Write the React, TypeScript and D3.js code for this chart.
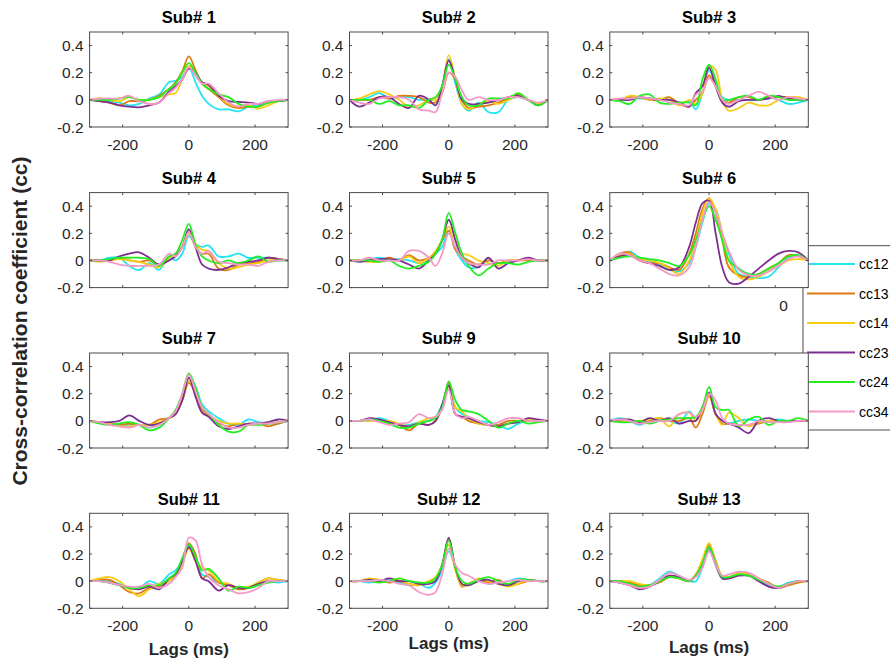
import React from 'react';
import * as d3 from 'd3';

// Lag grid (ms) shared by every cross-correlation trace
const LAGS = [-300, -270, -240, -210, -180, -150, -120, -90, -60, -40, -20, 0, 20, 40, 60, 90, 120, 150, 180, 210, 240, 270, 300];

const PAIR_LABELS = ['cc12', 'cc13', 'cc14', 'cc23', 'cc24', 'cc34'];
const PAIR_COLORS = ['#22e5f2', '#dd7a12', '#f7cc14', '#7b2f8f', '#22ee22', '#f59ac8'];

const X_TICKS = [-200, 0, 200];
const Y_TICKS = [-0.2, 0, 0.2, 0.4];

const SUBJECT_TITLES = ['Sub# 1', 'Sub# 2', 'Sub# 3', 'Sub# 4', 'Sub# 5', 'Sub# 6', 'Sub# 7', 'Sub# 9', 'Sub# 10', 'Sub# 11', 'Sub# 12', 'Sub# 13'];

// Each subject: rows in PAIR_LABELS order, columns in LAGS order
const sub1 = [
  [0, 0, -0.01, -0.02, -0.04, -0.03, 0.01, 0.04, 0.13, 0.14, 0.17, 0.24, 0.13, 0.03, -0.03, -0.07, -0.07, -0.085, -0.05, -0.04, -0.02, -0.01, 0],
  [0, -0.01, -0.02, -0.04, -0.01, -0.01, 0, 0.03, 0.08, 0.13, 0.21, 0.32, 0.22, 0.12, 0.08, 0.02, -0.04, -0.06, -0.05, -0.05, -0.02, -0.01, 0],
  [0, 0.01, 0, -0.01, 0.02, 0, 0, 0.02, 0.04, 0.05, 0.15, 0.25, 0.2, 0.12, 0.1, 0.03, -0.03, -0.05, -0.04, -0.065, -0.04, -0.01, 0],
  [0, -0.01, -0.02, -0.04, -0.05, -0.055, -0.04, -0.02, 0.06, 0.1, 0.15, 0.23, 0.2, 0.13, 0.11, 0.03, -0.01, -0.015, -0.02, -0.03, -0.01, -0.01, 0],
  [0, 0, 0, 0.01, 0.02, 0, 0, 0.02, 0.08, 0.12, 0.2, 0.27, 0.2, 0.12, 0.08, 0.04, 0.02, -0.03, -0.05, -0.05, -0.02, -0.01, 0],
  [0, 0.01, 0.01, 0.01, 0.03, -0.01, -0.03, -0.02, 0.05, 0.09, 0.15, 0.24, 0.18, 0.12, 0.12, 0.05, -0.02, -0.05, -0.03, -0.03, -0.01, 0, 0],
];
const sub2 = [
  [0, 0, 0.02, 0.05, 0.01, 0.02, 0.02, 0, 0, -0.04, 0.1, 0.3, 0.12, -0.03, -0.08, -0.02, -0.09, -0.09, 0, 0.02, 0, -0.03, 0],
  [0, 0, 0, 0.02, 0.01, 0.03, 0.03, 0.02, -0.02, -0.02, 0.05, 0.2, 0.15, 0, -0.06, -0.05, -0.04, -0.02, 0.01, 0.04, 0, -0.03, 0],
  [0, 0.01, 0.04, 0.065, 0.04, 0, -0.05, -0.04, 0, 0, 0.1, 0.33, 0.15, -0.03, -0.07, -0.03, -0.01, -0.03, 0, 0.03, 0, -0.03, 0],
  [0, -0.05, -0.02, 0.02, 0.02, -0.03, -0.06, 0.03, 0, -0.04, 0.1, 0.29, 0.15, 0, -0.03, -0.03, -0.02, 0, 0.02, 0.03, 0, -0.04, 0],
  [0, 0, 0, -0.03, -0.01, -0.04, -0.04, -0.06, 0, 0.02, 0.1, 0.26, 0.15, 0.02, -0.04, -0.04, 0.01, 0.01, 0.01, 0.05, 0, -0.04, 0],
  [0, -0.02, -0.03, 0.01, 0.02, 0.02, 0, -0.07, -0.08, -0.09, 0.05, 0.2, 0.17, 0.07, 0, 0.02, 0, 0, 0.02, 0.02, 0, -0.02, 0],
];
const sub3 = [
  [0, 0, 0.02, 0.01, 0.01, 0, 0, -0.03, -0.01, -0.07, 0.05, 0.22, 0.12, 0.02, 0, 0, 0, 0, 0.02, 0, -0.03, -0.02, 0],
  [0, 0, 0.02, 0.02, 0, 0, 0.02, -0.03, -0.05, 0, 0.05, 0.18, 0.1, 0, -0.02, 0.02, 0.02, 0, 0.02, 0.02, 0.02, 0, 0],
  [0, 0, 0.03, 0.02, 0, 0.01, 0, -0.04, 0, -0.03, 0.05, 0.25, 0.22, 0, -0.08, -0.06, -0.02, -0.04, -0.04, 0, 0.02, 0.02, 0],
  [0, 0, 0, 0.02, 0.01, 0, 0, -0.02, -0.05, 0.05, 0.1, 0.24, 0.1, -0.02, -0.05, -0.01, 0, 0, 0.01, 0.03, 0.01, 0, 0],
  [0, -0.01, -0.03, 0.03, 0.04, -0.02, -0.03, -0.02, -0.02, -0.04, 0.15, 0.26, 0.15, 0, 0, 0.02, 0.03, 0, 0.03, 0.02, 0, 0, 0],
  [0, 0.01, 0.01, 0.02, 0.01, 0, -0.02, -0.03, -0.04, 0.04, 0.06, 0.16, 0.1, 0, -0.03, 0, 0.03, 0.06, 0.03, 0, 0.02, 0.01, 0],
];
const sub4 = [
  [0, 0, 0.02, 0.02, -0.04, -0.07, -0.02, -0.07, 0.03, 0, 0.05, 0.18, 0.12, 0.1, 0.11, 0.03, 0.03, 0.05, 0.02, 0.02, 0.02, 0, 0],
  [0, 0, 0, 0.02, 0, -0.01, 0, -0.04, 0.02, 0.05, 0.1, 0.21, 0.1, 0.05, 0.05, -0.06, -0.07, -0.03, -0.02, -0.01, 0.02, 0.01, 0],
  [0, -0.01, 0, 0.01, 0, -0.01, -0.03, -0.05, 0.02, 0.05, 0.1, 0.2, 0.12, 0.08, 0.07, -0.02, -0.06, -0.05, -0.03, -0.02, 0, 0.01, 0],
  [0, 0, 0, 0.03, 0.05, 0.06, 0.02, -0.03, 0, 0.03, 0.1, 0.23, 0.1, -0.03, -0.06, -0.07, -0.05, -0.02, -0.01, 0, 0.02, 0.01, 0],
  [0, 0, 0.01, 0.02, 0.02, 0.02, 0.01, -0.04, 0.03, 0.05, 0.15, 0.27, 0.12, 0.03, 0, -0.02, 0, -0.02, 0, 0.03, -0.01, 0, 0],
  [0, 0, -0.01, -0.03, -0.04, -0.04, -0.04, -0.03, 0.05, 0.03, 0.1, 0.21, 0.1, 0.05, 0.07, -0.01, -0.02, -0.03, -0.03, -0.04, -0.01, 0, 0],
];
const sub5 = [
  [0, 0, 0.01, 0.02, 0.01, 0.01, 0, -0.02, 0, 0.05, 0.1, 0.22, 0.08, 0, -0.05, -0.05, 0, -0.02, -0.01, 0, 0.01, 0, 0],
  [0, 0, 0, 0, 0.02, 0, 0.04, 0, 0.02, 0.05, 0.15, 0.22, 0.08, 0.03, 0, -0.03, 0, -0.02, 0, 0, 0, 0, 0],
  [0, 0, -0.01, -0.01, 0.01, 0, 0.03, -0.02, 0.02, 0.07, 0.15, 0.25, 0.1, 0.05, 0.04, 0, -0.02, -0.04, 0, 0, 0.01, 0, 0],
  [0, -0.01, 0, 0.01, 0.01, 0, -0.03, -0.06, 0, 0.05, 0.15, 0.3, 0.15, 0.02, -0.02, -0.05, 0.02, -0.06, -0.02, 0, 0.02, 0, 0],
  [0, 0, 0, -0.01, 0, -0.04, -0.06, -0.04, -0.01, 0.05, 0.15, 0.35, 0.2, 0.05, -0.04, -0.11, -0.06, -0.02, -0.02, -0.03, -0.01, 0, 0],
  [0, 0, 0.02, 0, 0, 0, 0.07, 0.07, 0.02, -0.04, 0.05, 0.2, 0.1, 0.02, -0.02, -0.03, -0.03, 0, 0, 0, 0.01, 0, 0],
];
const sub6 = [
  [0, 0.04, 0.065, 0.02, -0.01, -0.03, -0.07, -0.08, -0.02, 0.1, 0.28, 0.42, 0.38, 0.2, 0.05, -0.1, -0.12, -0.13, -0.12, -0.05, 0.02, 0.04, 0],
  [0, 0.05, 0.06, 0, -0.02, -0.02, -0.05, -0.07, 0.05, 0.2, 0.38, 0.46, 0.35, 0.15, -0.05, -0.11, -0.12, -0.1, -0.06, -0.02, 0.04, 0.03, 0],
  [0, 0.04, 0.05, 0.01, 0, -0.02, -0.06, -0.1, 0, 0.15, 0.35, 0.46, 0.38, 0.2, 0, -0.12, -0.14, -0.12, -0.08, -0.04, 0, 0.01, 0],
  [0, 0.03, 0.04, 0, -0.02, -0.04, -0.07, -0.05, 0.1, 0.28, 0.42, 0.44, 0.2, -0.05, -0.16, -0.17, -0.12, -0.06, 0, 0.05, 0.07, 0.06, 0],
  [0, 0.02, 0.03, 0.02, 0.01, 0, -0.02, -0.04, 0.04, 0.15, 0.3, 0.4, 0.3, 0.15, 0, -0.06, -0.1, -0.1, -0.06, -0.02, 0.03, 0.04, 0],
  [0, 0.05, 0.04, 0, -0.02, -0.06, -0.1, -0.11, -0.05, 0.1, 0.3, 0.43, 0.35, 0.2, 0.07, -0.07, -0.11, -0.11, -0.08, -0.04, 0.01, 0.03, 0],
];
const sub7 = [
  [0, -0.01, -0.02, -0.03, -0.03, -0.03, -0.05, -0.03, 0.02, 0.07, 0.18, 0.3, 0.25, 0.12, 0.07, 0.02, -0.02, -0.03, 0.01, -0.01, -0.02, -0.02, 0],
  [0, -0.01, -0.02, -0.03, -0.02, -0.03, -0.03, 0.01, 0.02, 0.05, 0.15, 0.28, 0.2, 0.08, 0.04, -0.02, -0.04, -0.02, -0.03, -0.02, -0.04, -0.02, 0],
  [0, -0.01, -0.02, -0.04, -0.04, -0.03, -0.03, -0.01, 0.02, 0.06, 0.17, 0.3, 0.22, 0.1, 0.05, 0, -0.02, -0.02, -0.03, -0.02, -0.02, -0.01, 0],
  [0, -0.01, -0.01, 0, 0.04, 0, -0.03, -0.02, 0.02, 0.05, 0.15, 0.32, 0.18, 0.06, 0.03, -0.04, -0.06, -0.04, -0.02, -0.02, -0.01, 0.01, 0],
  [0, -0.02, -0.03, -0.02, -0.01, -0.03, -0.07, -0.05, 0.02, 0.08, 0.2, 0.35, 0.25, 0.1, 0.05, -0.03, -0.08, -0.08, -0.03, -0.03, -0.02, -0.01, 0],
  [0, -0.01, -0.03, -0.04, -0.05, -0.03, -0.05, -0.03, 0.02, 0.07, 0.2, 0.34, 0.22, 0.1, 0.05, -0.01, -0.05, -0.05, -0.03, -0.02, -0.02, -0.01, 0],
];
const sub9 = [
  [0, 0, 0, 0.02, 0, -0.03, -0.03, -0.01, 0, 0.03, 0.12, 0.27, 0.1, 0.05, 0.03, 0, -0.01, -0.03, -0.06, -0.02, 0, 0, 0],
  [0, 0, 0.01, 0, -0.01, -0.03, -0.07, -0.02, -0.03, 0, 0.1, 0.28, 0.05, 0.03, 0, -0.02, -0.03, -0.03, 0, 0, 0, 0, 0],
  [0, 0, 0, 0, 0, -0.02, -0.04, -0.01, 0.02, 0.03, 0.1, 0.25, 0.1, 0.07, 0.02, -0.02, -0.03, -0.04, -0.02, 0, 0.01, 0, 0],
  [0, 0, 0.02, 0.01, -0.01, -0.03, -0.04, -0.02, -0.03, 0, 0.12, 0.26, 0.05, 0.03, 0.02, -0.01, -0.03, -0.04, -0.02, -0.01, 0.02, 0.01, 0],
  [0, 0, 0.01, 0, -0.02, -0.05, -0.05, -0.02, 0, 0.02, 0.1, 0.29, 0.15, 0.08, 0.07, 0.05, 0, -0.05, -0.02, 0, -0.02, -0.01, 0],
  [0, 0, 0.01, -0.01, -0.03, -0.02, -0.01, 0.05, 0.02, 0.03, 0.08, 0.23, 0.05, 0.02, 0.03, 0, -0.03, -0.01, 0.02, 0.02, 0, 0, 0],
];
const sub10 = [
  [0, 0.02, 0, -0.03, 0, 0.01, 0, -0.02, 0.07, 0.02, 0.08, 0.2, 0.05, -0.02, -0.02, 0, 0.01, 0, 0, 0.01, 0, 0, 0],
  [0, 0, 0, -0.02, 0, 0.02, 0, 0, 0.02, -0.05, 0.05, 0.18, 0.05, -0.02, -0.02, -0.03, -0.03, -0.02, 0, 0, 0, 0, 0],
  [0, 0, -0.01, 0, 0.01, 0.02, -0.04, 0.05, 0.06, 0, 0.08, 0.19, 0.05, -0.03, 0.06, 0.02, -0.04, -0.01, 0, 0, 0, 0, 0],
  [0, 0.01, 0.01, -0.01, 0.02, 0, 0.02, -0.02, 0, 0, 0.1, 0.21, 0.05, 0, -0.02, -0.05, -0.09, 0, 0.02, 0, 0, 0, 0],
  [0, -0.01, -0.01, 0, -0.02, 0, 0.01, 0.02, 0.02, 0.03, 0.1, 0.25, 0.1, 0.08, 0.08, -0.04, 0.01, 0.03, -0.03, 0, 0, 0.02, 0],
  [0, 0.01, 0, -0.02, -0.01, 0, 0, 0.05, 0.06, 0.03, 0.08, 0.2, 0.15, 0.02, -0.02, -0.03, -0.03, 0, -0.01, -0.01, -0.01, 0, 0],
];
const sub11 = [
  [0, 0, 0, -0.02, -0.05, -0.05, 0, -0.02, 0.05, 0.08, 0.15, 0.26, 0.18, 0.05, 0.03, -0.01, -0.03, -0.05, -0.05, -0.03, 0, -0.01, 0],
  [0, 0.01, 0.01, -0.03, -0.08, -0.09, -0.05, -0.04, 0, 0.05, 0.15, 0.28, 0.2, 0.02, 0.05, -0.01, -0.03, -0.06, -0.05, -0.01, 0.02, 0.01, 0],
  [0, 0.02, 0.03, 0, -0.06, -0.11, -0.06, -0.02, 0, 0.04, 0.12, 0.24, 0.15, 0.1, 0.08, 0, -0.02, -0.05, -0.04, -0.01, 0.02, 0.01, 0],
  [0, 0, -0.01, -0.03, -0.05, -0.06, -0.04, -0.06, 0.02, 0.05, 0.15, 0.25, 0.15, 0.02, 0, -0.07, -0.03, -0.05, -0.05, -0.02, 0, 0, 0],
  [0, 0, -0.01, -0.03, -0.05, -0.05, -0.03, -0.03, 0.02, 0.06, 0.17, 0.27, 0.18, 0.08, 0.09, 0.02, -0.07, -0.04, -0.05, -0.03, -0.01, 0, 0],
  [0, 0, -0.01, -0.03, -0.04, -0.04, -0.02, -0.05, -0.02, 0.03, 0.1, 0.32, 0.3, 0.12, 0.03, -0.03, -0.06, -0.09, -0.08, -0.05, 0, 0, 0],
];
const sub12 = [
  [0, 0, -0.01, 0, 0.01, -0.01, -0.03, -0.02, -0.05, -0.01, 0.08, 0.22, 0.1, -0.03, -0.02, 0, -0.02, -0.01, 0, 0.02, 0.01, 0, 0],
  [0, 0, 0.01, 0.01, -0.01, 0, -0.02, -0.03, 0, 0.02, 0.12, 0.31, 0.1, -0.04, -0.02, 0.01, -0.01, 0.01, -0.03, -0.02, 0, 0, 0],
  [0, 0, 0.02, 0.01, 0, 0.01, -0.02, -0.03, 0, 0.03, 0.12, 0.27, 0.08, -0.03, -0.03, 0.02, 0, -0.02, -0.04, -0.02, 0.01, 0, 0],
  [0, 0, 0.01, 0, 0.02, 0, 0, -0.02, -0.02, 0, 0.12, 0.32, 0.1, -0.02, -0.03, 0, 0.01, -0.02, -0.03, 0, 0.01, 0, 0],
  [0, 0, 0, -0.01, 0, 0.02, 0, -0.01, -0.01, 0.02, 0.12, 0.3, 0.1, 0, -0.02, 0.01, 0.03, 0, -0.02, 0.01, 0.01, 0, 0],
  [0, 0, 0, 0.01, 0, -0.02, -0.03, -0.08, -0.1, -0.08, 0.05, 0.24, 0.12, 0.06, 0.04, 0, -0.02, -0.01, 0, 0.01, 0, 0, 0],
];
const sub13 = [
  [0, -0.01, -0.02, -0.04, -0.03, 0.02, 0.07, 0.04, 0, 0, 0.1, 0.23, 0.12, 0.02, 0.02, 0.06, 0.05, 0.01, -0.03, -0.04, -0.01, 0, 0],
  [0, 0, -0.01, -0.03, -0.03, -0.01, 0.03, 0.02, 0, 0.05, 0.15, 0.27, 0.15, 0.03, 0.02, 0.05, 0.06, 0.02, -0.01, -0.05, -0.03, -0.01, 0],
  [0, 0, 0, -0.02, -0.03, 0, 0.04, 0.03, 0, 0.05, 0.16, 0.28, 0.14, 0.04, 0.03, 0.06, 0.05, 0.02, -0.02, -0.04, -0.02, 0, 0],
  [0, -0.01, -0.03, -0.06, -0.04, 0, 0.04, 0.03, 0, 0.04, 0.12, 0.25, 0.12, 0.02, 0.02, 0.04, 0.04, 0, -0.04, -0.05, -0.02, 0, 0],
  [0, 0, -0.02, -0.04, -0.03, 0, 0.03, 0.02, 0, 0.04, 0.13, 0.25, 0.13, 0.03, 0.03, 0.05, 0.04, 0.01, -0.02, -0.04, -0.02, 0, 0],
  [0, -0.01, -0.03, -0.05, -0.04, 0.01, 0.06, 0.04, 0.01, 0.03, 0.1, 0.22, 0.12, 0.04, 0.05, 0.07, 0.06, 0.02, -0.02, -0.05, -0.02, 0, 0],
];

const SUBJECT_SERIES = [sub1, sub2, sub3, sub4, sub5, sub6, sub7, sub9, sub10, sub11, sub12, sub13];

// Layout
const WIDTH = 890;
const HEIGHT = 663;
const COL_X = [89.6, 349.5, 609.8];
const ROW_Y = [32, 192.6, 353, 513.3];
const PW = 198.5;
const PH = 95;
const FONT = "'Liberation Sans', Arial, Helvetica, sans-serif";
const AXIS_COLOR = '#4a4a4a';
const TICK_LEN = 2.5;

const xScale = d3.scaleLinear().domain([-300, 300]).range([0, PW]);
const yScale = d3.scaleLinear().domain([-0.2, 0.5]).range([PH, 0]);

const fmtY = (v: number) => String(Math.round(v * 10) / 10);

function Panel({ index, left, top, title, series, showXLabels }: {
  index: number; left: number; top: number; title: string; series: number[][]; showXLabels: boolean;
}) {
  const line = d3.line<number>()
    .x((_, i) => xScale(LAGS[i]))
    .y((d) => yScale(d))
    .curve(d3.curveCatmullRom.alpha(0.5));
  const clipId = `clip-${index}`;
  return (
    <g transform={`translate(${left},${top})`}>
      <rect x={0} y={0} width={PW} height={PH} fill="#fff" />
      <clipPath id={clipId}>
        <rect x={0} y={0} width={PW} height={PH} />
      </clipPath>
      <g clipPath={`url(#${clipId})`}>
        {series.map((vals, s) => (
          <path key={s} d={line(vals) || ''} fill="none" stroke={PAIR_COLORS[s]} strokeWidth={1.8} strokeLinejoin="round" />
        ))}
      </g>
      <rect x={0} y={0} width={PW} height={PH} fill="none" stroke={AXIS_COLOR} strokeWidth={1} />
      {X_TICKS.map((t) => (
        <g key={`xt${t}`}>
          <line x1={xScale(t)} x2={xScale(t)} y1={PH} y2={PH - TICK_LEN} stroke={AXIS_COLOR} />
          <line x1={xScale(t)} x2={xScale(t)} y1={0} y2={TICK_LEN} stroke={AXIS_COLOR} />
          {showXLabels && (
            <text x={xScale(t)} y={PH + 22.5} textAnchor="middle" fontSize={15.5} fill="#262626" fontFamily={FONT}>{t}</text>
          )}
        </g>
      ))}
      {Y_TICKS.map((t) => (
        <g key={`yt${t}`}>
          <line x1={0} x2={TICK_LEN} y1={yScale(t)} y2={yScale(t)} stroke={AXIS_COLOR} />
          <line x1={PW} x2={PW - TICK_LEN} y1={yScale(t)} y2={yScale(t)} stroke={AXIS_COLOR} />
          <text x={-6} y={yScale(t) + 5.5} textAnchor="end" fontSize={15.5} fill="#262626" fontFamily={FONT}>{fmtY(t)}</text>
        </g>
      ))}
      <text x={PW / 2} y={-8.7} textAnchor="middle" fontSize={16.5} fontWeight="bold" fill="#000" fontFamily={FONT}>{title}</text>
    </g>
  );
}

export default function App() {
  const legendX = 803;
  const legendY = 245.7;
  const legendRowY = (i: number) => 264 + i * 29.5;
  return (
    <svg width={WIDTH} height={HEIGHT} style={{ position: 'absolute', left: 0, top: 0, background: '#fff' }}>
      <rect x={0} y={0} width={WIDTH} height={HEIGHT} fill="#fff" />
      {/* legend box sits beneath the right-column panels */}
      <rect x={legendX} y={legendY} width={110} height={184.3} fill="#fff" stroke={AXIS_COLOR} strokeWidth={1} />
      {PAIR_LABELS.map((lab, i) => (
        <g key={lab}>
          <line x1={807} x2={855} y1={legendRowY(i)} y2={legendRowY(i)} stroke={PAIR_COLORS[i]} strokeWidth={1.8} />
          <text x={859} y={legendRowY(i) + 5} fontSize={14} fill="#000" fontFamily={FONT}>{lab}</text>
        </g>
      ))}
      <text x={783.5} y={310.5} textAnchor="middle" fontSize={15.5} fill="#262626" fontFamily={FONT}>0</text>
      {SUBJECT_SERIES.map((series, k) => {
        const r = Math.floor(k / 3);
        const c = k % 3;
        return (
          <Panel key={k} index={k} left={COL_X[c]} top={ROW_Y[r]} title={SUBJECT_TITLES[k]} series={series} showXLabels={r === 0 || r === 3} />
        );
      })}
      <text x={COL_X[0] + PW / 2} y={655} textAnchor="middle" fontSize={17} fontWeight="bold" fill="#262626" fontFamily={FONT}>Lags (ms)</text>
      <text x={COL_X[1] + PW / 2} y={648.5} textAnchor="middle" fontSize={17} fontWeight="bold" fill="#262626" fontFamily={FONT}>Lags (ms)</text>
      <text x={COL_X[2] + PW / 2} y={653} textAnchor="middle" fontSize={17} fontWeight="bold" fill="#262626" fontFamily={FONT}>Lags (ms)</text>
      <text transform="translate(19,321) rotate(-90)" textAnchor="middle" dominantBaseline="central" fontSize={21} fontWeight="bold" fill="#262626" fontFamily={FONT}>Cross-correlation coefficient (cc)</text>
    </svg>
  );
}
